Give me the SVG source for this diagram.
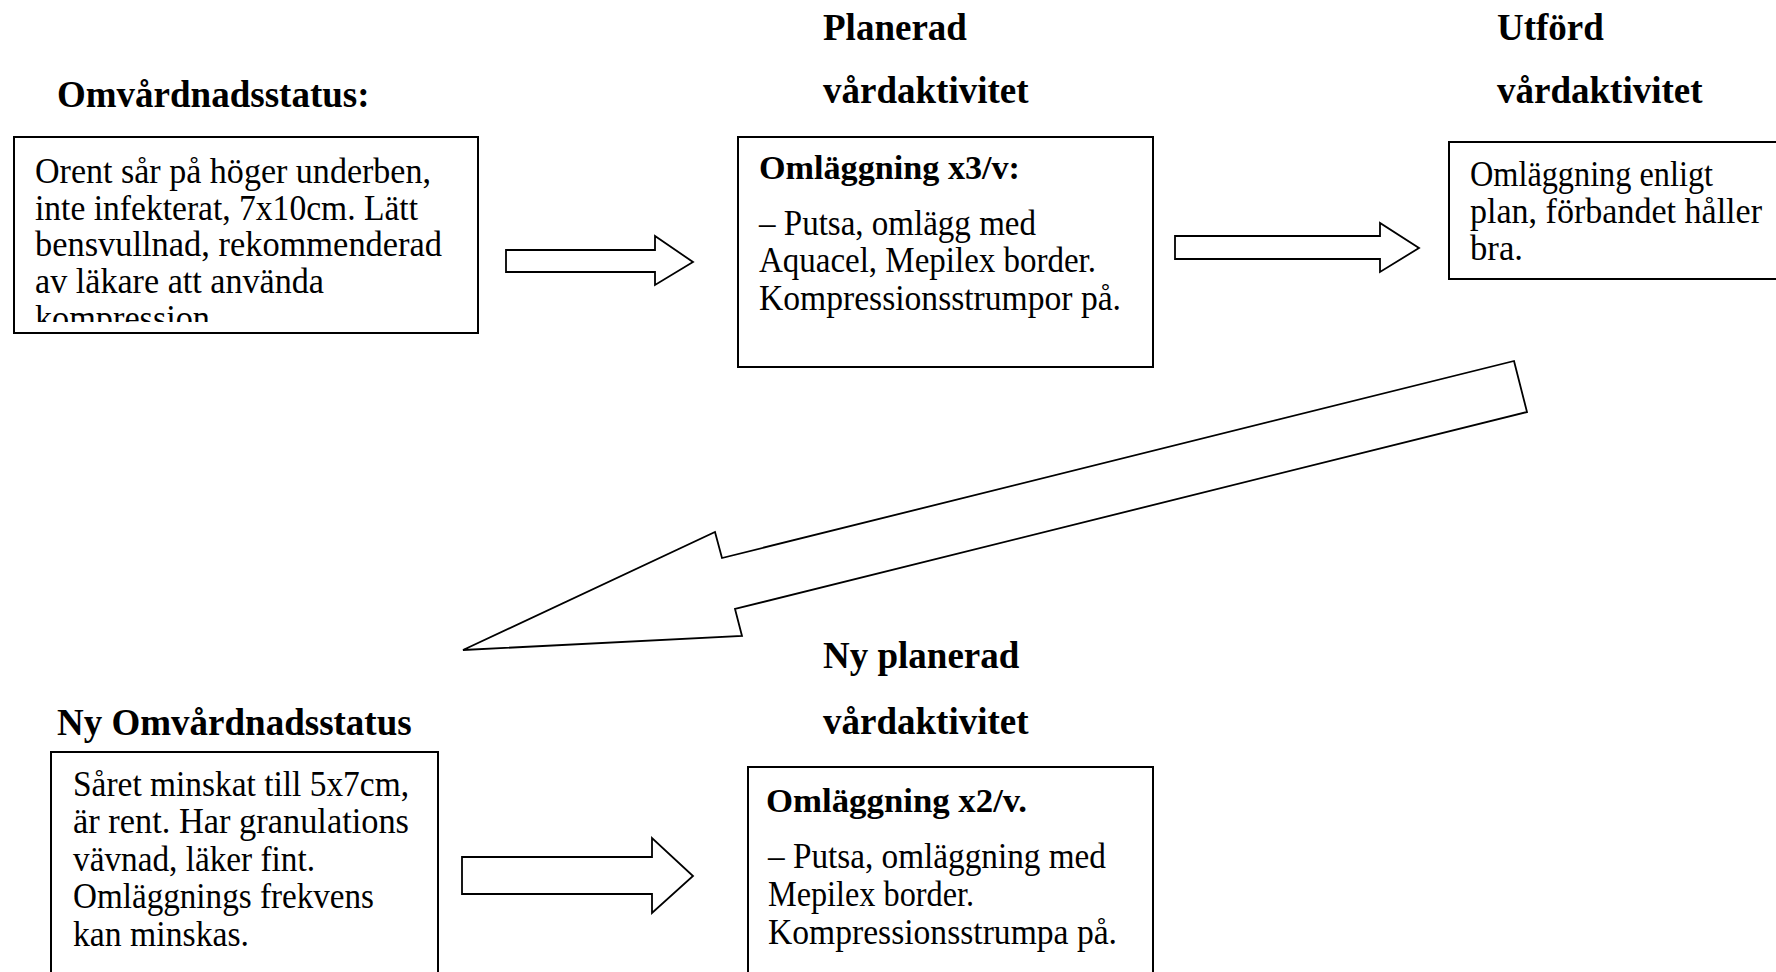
<svg xmlns="http://www.w3.org/2000/svg" width="1776" height="972" viewBox="0 0 1776 972">
<style>
.box{fill:#fff;stroke:#000;stroke-width:2}
.arr{fill:#fff;stroke:#000;stroke-width:1.8;stroke-linejoin:miter}
.hd{font-family:"Liberation Serif",serif;font-weight:bold;font-size:37px;fill:#000}
.tx{font-family:"Liberation Serif",serif;font-size:35px;fill:#000}
.tb{font-family:"Liberation Serif",serif;font-weight:bold;font-size:34px;fill:#000}
</style>
<defs>
<clipPath id="c1"><rect x="14" y="137" width="464" height="185"/></clipPath>
</defs>
<rect width="1776" height="972" fill="#fff"/>
<g id="headers">
<text class="hd" x="57" y="107">Omvårdnadsstatus:</text>
<text class="hd" x="823" y="40">Planerad</text>
<text class="hd" x="823" y="103">vårdaktivitet</text>
<text class="hd" x="1497" y="40">Utförd</text>
<text class="hd" x="1497" y="103">vårdaktivitet</text>
<text class="hd" x="823" y="668">Ny planerad</text>
<text class="hd" x="823" y="734">vårdaktivitet</text>
<text class="hd" x="57" y="735">Ny Omvårdnadsstatus</text>
</g>
<g id="node1">
<rect class="box" x="14" y="137" width="464" height="196"/>
<g clip-path="url(#c1)">
<text class="tx" x="35" y="183" textLength="396" lengthAdjust="spacingAndGlyphs">Orent sår på höger underben,</text>
<text class="tx" x="35" y="220" textLength="383" lengthAdjust="spacingAndGlyphs">inte infekterat, 7x10cm. Lätt</text>
<text class="tx" x="35" y="256" textLength="407" lengthAdjust="spacingAndGlyphs">bensvullnad, rekommenderad</text>
<text class="tx" x="35" y="293" textLength="289" lengthAdjust="spacingAndGlyphs">av läkare att använda</text>
<text class="tx" x="35" y="330" textLength="175" lengthAdjust="spacingAndGlyphs">kompression</text>
</g>
</g>
<g id="node2">
<rect class="box" x="738" y="137" width="415" height="230"/>
<text class="tb" x="759" y="179" textLength="261" lengthAdjust="spacingAndGlyphs">Omläggning x3/v:</text>
<text class="tx" x="759" y="235" textLength="277" lengthAdjust="spacingAndGlyphs">– Putsa, omlägg med</text>
<text class="tx" x="759" y="272" textLength="337" lengthAdjust="spacingAndGlyphs">Aquacel, Mepilex border.</text>
<text class="tx" x="759" y="310" textLength="362" lengthAdjust="spacingAndGlyphs">Kompressionsstrumpor på.</text>
</g>
<g id="node3">
<rect class="box" x="1449" y="142" width="340" height="137"/>
<text class="tx" x="1470" y="186" textLength="243" lengthAdjust="spacingAndGlyphs">Omläggning enligt</text>
<text class="tx" x="1470" y="223" textLength="292" lengthAdjust="spacingAndGlyphs">plan, förbandet håller</text>
<text class="tx" x="1470" y="260" textLength="53" lengthAdjust="spacingAndGlyphs">bra.</text>
</g>
<g id="node4">
<rect class="box" x="51" y="752" width="387" height="240"/>
<text class="tx" x="73" y="796" textLength="336" lengthAdjust="spacingAndGlyphs">Såret minskat till 5x7cm,</text>
<text class="tx" x="73" y="833" textLength="336" lengthAdjust="spacingAndGlyphs">är rent. Har granulations</text>
<text class="tx" x="73" y="871" textLength="242" lengthAdjust="spacingAndGlyphs">vävnad, läker fint.</text>
<text class="tx" x="73" y="908" textLength="301" lengthAdjust="spacingAndGlyphs">Omläggnings frekvens</text>
<text class="tx" x="73" y="946" textLength="176" lengthAdjust="spacingAndGlyphs">kan minskas.</text>
</g>
<g id="node5">
<rect class="box" x="748" y="767" width="405" height="230"/>
<text class="tb" x="766" y="812" textLength="261" lengthAdjust="spacingAndGlyphs">Omläggning x2/v.</text>
<text class="tx" x="768" y="868" textLength="338" lengthAdjust="spacingAndGlyphs">– Putsa, omläggning med</text>
<text class="tx" x="768" y="906" textLength="206" lengthAdjust="spacingAndGlyphs">Mepilex border.</text>
<text class="tx" x="768" y="944" textLength="349" lengthAdjust="spacingAndGlyphs">Kompressionsstrumpa på.</text>
</g>
<g id="connectors">
<polygon class="arr" points="506,250 655,250 655,236 693,262 655,285 655,272 506,272"/>
<polygon class="arr" points="1175,236 1380,236 1380,223 1419,248 1380,272 1380,259 1175,259"/>
<polygon class="arr" points="1514,361 1527,412 735,609 742,636 463,650 715,532 722,558"/>
<polygon class="arr" points="462,857 652,857 652,838 693,876 652,913 652,894 462,894"/>
</g>
</svg>
